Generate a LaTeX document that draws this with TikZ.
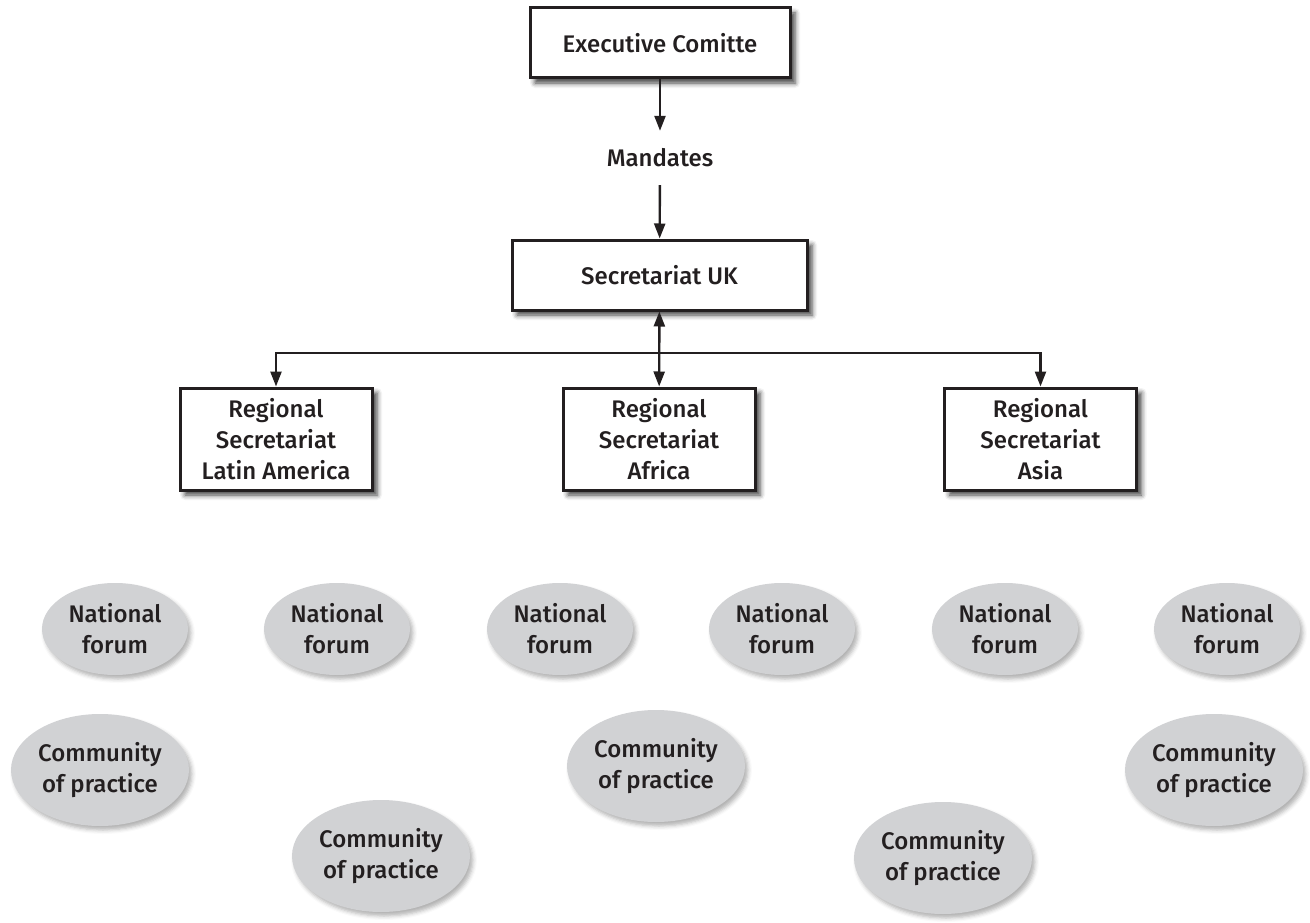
\documentclass[tikz,border=0pt]{standalone}
\usepackage{fontspec}
\setmainfont{Fira Sans}[UprightFont=* Medium]
\usetikzlibrary{shapes.geometric,arrows.meta,shadows.blur}
\definecolor{ink}{HTML}{231F20}
\definecolor{ovalgray}{HTML}{D1D2D4}
\begin{document}
\begin{tikzpicture}[x=1pt,y=-1pt,
  every node/.style={font=\fontsize{24}{31}\selectfont, text=ink, align=center},
  box/.style={draw=ink, line width=3pt, fill=white, rectangle, inner sep=0pt,
    blur shadow={shadow xshift=5pt, shadow yshift=-5pt, shadow blur radius=5pt, shadow opacity=75}},
  oval/.style={ellipse, fill=ovalgray, inner sep=0pt,
    blur shadow={shadow xshift=3pt, shadow yshift=-4pt, shadow blur radius=4pt, shadow opacity=30}},
  forum/.style={oval, minimum width=146pt, minimum height=92pt},
  cop/.style={oval, minimum width=178pt, minimum height=112pt},
  arr/.style={draw=ink, line width=2.4pt, -{Triangle[length=15pt,width=11pt]}},
  darr/.style={draw=ink, line width=2.4pt, {Triangle[length=15pt,width=11pt]}-{Triangle[length=15pt,width=11pt]}}
]
\useasboundingbox (0,0) rectangle (1310,923);

\node[box, minimum width=260pt, minimum height=70pt] (exec) at (660,43) {Executive Comitte};
\node[inner sep=0pt, minimum height=54pt] (mand) at (660,158) {Mandates};
\node[box, minimum width=295pt, minimum height=70pt] (uk) at (659.5,275) {Secretariat UK};

\node[box, minimum width=192pt, minimum height=102pt] (lat) at (276,439) {Regional\\Secretariat\\Latin America};
\node[box, minimum width=192pt, minimum height=102pt] (afr) at (659,439) {Regional\\Secretariat\\Africa};
\node[box, minimum width=192pt, minimum height=102pt] (asia) at (1040.5,439) {Regional\\Secretariat\\Asia};

\draw[arr] (exec) -- (mand);
\draw[arr] (mand) -- (uk);
\coordinate (j) at (659,353);
\draw[darr] (uk) -- (afr);
\draw[arr] (j) -| (lat);
\draw[arr] (j) -| (asia);

\node[forum] (nf1) at (115,629) {National\\forum};
\node[forum] (nf2) at (337,629) {National\\forum};
\node[forum] (nf3) at (560,629) {National\\forum};
\node[forum] (nf4) at (782,629) {National\\forum};
\node[forum] (nf5) at (1005,629) {National\\forum};
\node[forum] (nf6) at (1227,629) {National\\forum};

\node[cop] (cp1) at (100,770) {Community\\of practice};
\node[cop] (cp2) at (381,856) {Community\\of practice};
\node[cop] (cp3) at (656,766) {Community\\of practice};
\node[cop] (cp4) at (943,858) {Community\\of practice};
\node[cop] (cp5) at (1214,770) {Community\\of practice};
\end{tikzpicture}
\end{document}
